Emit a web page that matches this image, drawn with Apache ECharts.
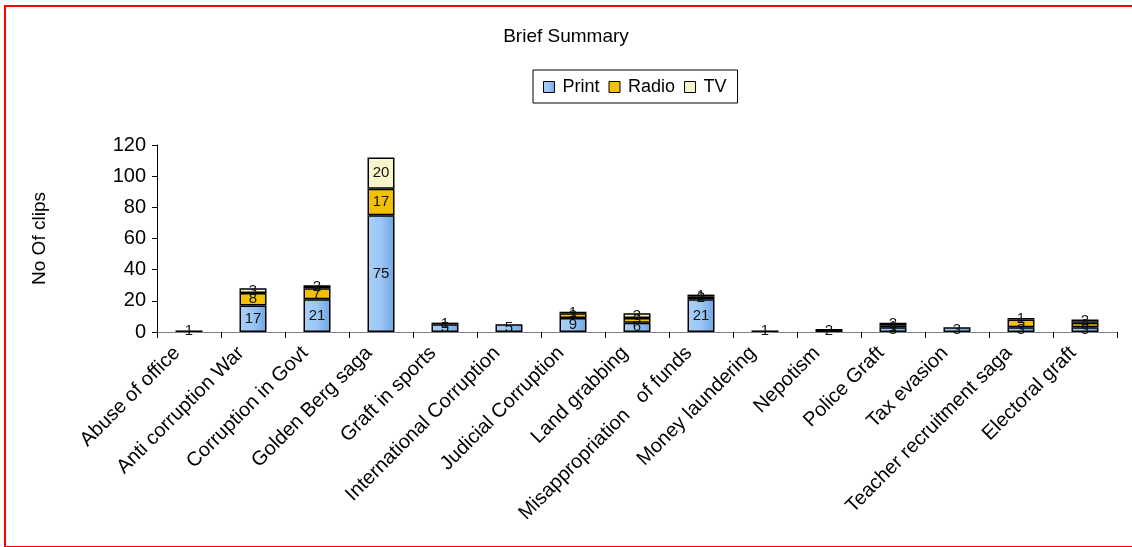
<!DOCTYPE html>
<html>
<head>
<meta charset="utf-8">
<script src="https://cdn.jsdelivr.net/npm/echarts@6/dist/echarts.min.js"></script>
<style>
  html, body { margin: 0; padding: 0; background: #fff; }
  #frame { position: absolute; left: 4px; top: 5px; width: 1140px; height: 539px; border: 2px solid #ff0000; }
  #chart { position: absolute; left: 0; top: 0; width: 1132px; height: 547px; }
</style>
</head>
<body>
<div id="frame"></div>
<div id="chart"></div>
<script>
// categories and values
var categories = ['Abuse of office', 'Anti corruption War', 'Corruption in Govt', 'Golden Berg saga',
  'Graft in sports', 'International Corruption', 'Judicial Corruption', 'Land grabbing',
  'Misappropriation   of funds', 'Money laundering', 'Nepotism', 'Police Graft', 'Tax evasion',
  'Teacher recruitment saga', 'Electoral graft'];
var printData = [1, 17, 21, 75, 5, 5, 9, 6, 21, 1, 2, 3, 3, 3, 3];
var radioData = [null, 8, 7, 17, null, null, 3, 3, 2, null, null, 1, null, 5, 3];
var tvData = [null, 3, 2, 20, 1, null, 1, 3, 1, null, null, 2, null, 1, 2];
var yTicks = [0, 20, 40, 60, 80, 100, 120];

var fontFamily = 'Liberation Sans, Arial, sans-serif';

function barSeries(name, data, color) {
  return {
    name: name,
    type: 'bar',
    stack: 'total',
    data: data,
    barWidth: 27,
    itemStyle: {
      color: color,
      borderColor: '#000',
      borderWidth: 1.5
    },
    label: {
      show: true,
      position: 'inside',
      color: '#111',
      fontFamily: fontFamily,
      fontSize: 15
    }
  };
}

var chart = echarts.init(document.getElementById('chart'), null, {renderer: 'canvas'});
var option = {
  animation: false,
  title: {
    text: 'Brief Summary',
    left: 'center',
    top: 22,
    textStyle: { fontFamily: fontFamily, fontSize: 19, fontWeight: 'normal', color: '#000' }
  },
  legend: {
    data: ['Print', 'Radio', 'TV'],
    left: 533,
    top: 70,
    padding: [8, 11, 7, 10],
    itemGap: 9,
    itemWidth: 11,
    itemHeight: 11,
    icon: 'rect',
    borderColor: '#000',
    borderWidth: 1,
    itemStyle: { borderColor: '#000', borderWidth: 1 },
    textStyle: { fontFamily: fontFamily, fontSize: 18, color: '#000', padding: [0, 0, 0, 3] }
  },
  grid: { left: 157, top: 145, width: 960, height: 187, containLabel: false },
  xAxis: {
    type: 'category',
    data: categories,
    axisLine: { lineStyle: { color: '#808080', width: 1 } },
    axisTick: { show: true, alignWithLabel: false, length: 6, lineStyle: { color: '#000' } },
    axisLabel: {
      rotate: 45,
      margin: 6,
      interval: 0,
      fontFamily: fontFamily,
      fontSize: 20,
      color: '#000',
      padding: [0, 17, 0, 0]
    }
  },
  yAxis: {
    type: 'value',
    min: yTicks[0],
    max: yTicks[yTicks.length - 1],
    interval: 20,
    name: 'No Of clips',
    nameLocation: 'middle',
    nameGap: 108,
    nameTextStyle: { fontFamily: fontFamily, fontSize: 19, color: '#000' },
    axisLine: { show: true, lineStyle: { color: '#000', width: 1 } },
    axisTick: { show: true, length: 5, lineStyle: { color: '#000' } },
    splitLine: { show: false },
    axisLabel: { fontFamily: fontFamily, fontSize: 20, color: '#000', margin: 11 }
  },
  series: [
    barSeries('Print', printData, new echarts.graphic.LinearGradient(1, 0, 0, 0, [
      {offset: 0, color: '#6fa4e0'},
      {offset: 0.5, color: '#9cc6f4'},
      {offset: 1, color: '#a9cff7'}
    ])),
    barSeries('Radio', radioData, '#f2c200'),
    barSeries('TV', tvData, '#f7f5c9')
  ]
};
chart.setOption(option);
</script>
</body>
</html>
